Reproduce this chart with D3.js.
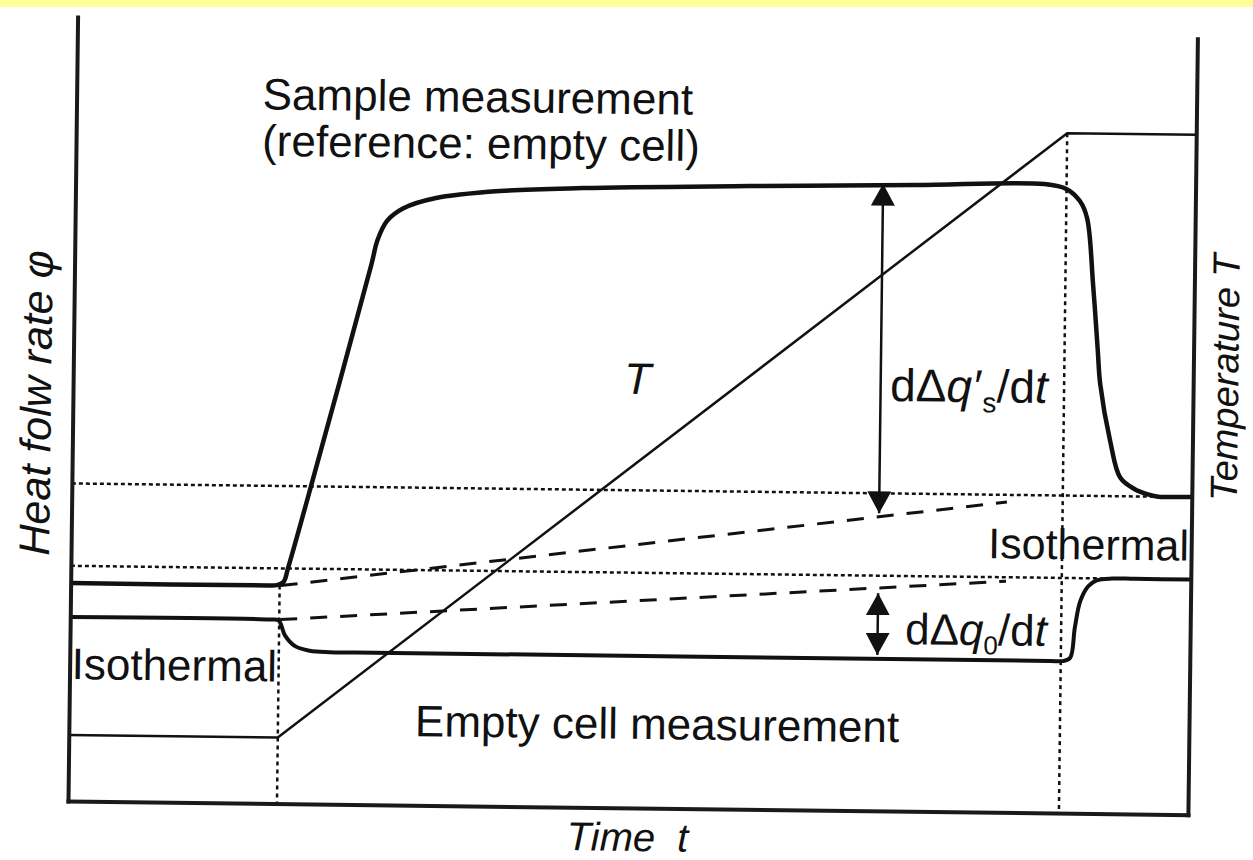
<!DOCTYPE html>
<html>
<head>
<meta charset="utf-8">
<script src="https://cdn.jsdelivr.net/npm/d3@7"></script>
<style>
  body { margin: 0; background: #fff; }
  svg { display: block; }
  text { font-family: "Liberation Sans", Arial, sans-serif; fill: #111; }
</style>
</head>
<body>
<div id="container"></div>
<script>
// time t (0-100), heat flow rate phi (0-100), temperature T (0-100), arbitrary units

// sample measurement (reference: empty cell)
var sampleCurve = [
  [0, 27.25], [17.6, 27.25], [18.4, 27.3], [19.0, 27.7], [19.4, 29.5], [21.5, 40.5], [26.5, 67.5],
  [27.0, 70.5], [27.85, 73.0], [29.3, 74.6], [32.1, 75.9], [37.9, 76.9], [45.3, 77.4],
  [60.2, 77.9], [75.0, 78.3], [86.5, 78.6], [88.5, 78.0], [89.7, 76.5], [90.35, 74.4],
  [90.95, 66.2], [91.45, 57.8], [91.7, 53.7], [92.65, 46.6], [93.6, 42.0], [94.9, 40.6],
  [96.0, 40.0], [97.0, 39.7], [98.5, 39.7], [100, 39.7]
];

// empty cell measurement
var emptyCurve = [
  [0, 23.0], [17.8, 23.0], [18.6, 22.9], [19.2, 21.0], [20.1, 19.7], [21.4, 19.15], [23.2, 19.0],
  [25.5, 19.0], [87.5, 19.0], [88.6, 19.0], [89.3, 19.4], [89.7, 23.2], [90.15, 26.5], [90.85, 28.4],
  [91.6, 29.15], [93.0, 29.4], [95.0, 29.4], [100, 29.4]
];

// temperature program
var tempProgram = [[0, 8.25], [18.66, 8.25], [88.48, 85], [100, 85]];

// isothermal levels (dotted) and interpolated baselines (dashed)
var isoLevels = [39.7, 29.4];
var sampleBaseline = [[18.75, 27.25], [83.5, 38.8]];
var emptyBaseline = [[18.75, 23.0], [83.5, 28.9]];

// start / end of heating
var stepTimes = [18.66, 88.48];

// difference arrows
var arrowTime = 72.1;
var arrowSample = [78.4, 37.2];
var arrowEmpty = [27.2, 19.5];

var width = 1253, height = 860;

var x = d3.scaleLinear().domain([0, 100]).range([68, 1188]);
var y = d3.scaleLinear().domain([0, 100]).range([800, 0]);
var yT = d3.scaleLinear().domain([0, 100]).range([800, 0]);

var svg = d3.select("#container")
  .append("svg")
  .attr("width", width)
  .attr("height", height);

svg.append("rect").attr("width", width).attr("height", height).attr("fill", "#fff");
// yellow strip on top of the scan
svg.append("rect").attr("width", width).attr("height", 7).attr("fill", "#ffff99");

var defs = svg.append("defs");
defs.append("marker")
  .attr("id", "head")
  .attr("viewBox", "0 -12 22 24")
  .attr("refX", 22).attr("refY", 0)
  .attr("markerWidth", 22).attr("markerHeight", 24)
  .attr("markerUnits", "userSpaceOnUse")
  .attr("orient", "auto-start-reverse")
  .append("path")
  .attr("d", "M0,-12L22,0L0,12Z")
  .attr("fill", "#111");

// the scan is slightly rotated
var g = svg.append("g").attr("transform", "translate(0,1) rotate(0.7,68,800)");

var flow = d3.line()
  .x(function (d) { return x(d[0]); })
  .y(function (d) { return y(d[1]); })
  .curve(d3.curveCatmullRom.alpha(0.5));

var straight = d3.line()
  .x(function (d) { return x(d[0]); })
  .y(function (d) { return y(d[1]); });

var temp = d3.line()
  .x(function (d) { return x(d[0]); })
  .y(function (d) { return yT(d[1]); });

// dotted isothermal levels
g.selectAll(".iso")
  .data(isoLevels)
  .enter().append("line")
  .attr("class", "iso")
  .attr("x1", x(0)).attr("x2", x(100))
  .attr("y1", function (d) { return y(d); })
  .attr("y2", function (d) { return y(d); })
  .attr("stroke", "#111")
  .attr("stroke-width", 2.5)
  .attr("stroke-dasharray", "4,3");

// dotted verticals at start / end of heating
var stepTops = [y(sampleCurve[1][1]), yT(tempProgram[2][1])];
g.selectAll(".step")
  .data(stepTimes)
  .enter().append("line")
  .attr("class", "step")
  .attr("x1", function (d) { return x(d); })
  .attr("x2", function (d) { return x(d); })
  .attr("y1", function (d, i) { return stepTops[i]; })
  .attr("y2", y(0))
  .attr("stroke", "#111")
  .attr("stroke-width", 2.5)
  .attr("stroke-dasharray", "4,4");

// dashed baselines
g.selectAll(".base")
  .data([sampleBaseline, emptyBaseline])
  .enter().append("path")
  .attr("class", "base")
  .attr("d", straight)
  .attr("fill", "none")
  .attr("stroke", "#111")
  .attr("stroke-width", 3)
  .attr("stroke-dasharray", "17,13");

// temperature program
g.append("path")
  .attr("d", temp(tempProgram))
  .attr("fill", "none")
  .attr("stroke", "#111")
  .attr("stroke-width", 2.5);

// heat flow curves
g.append("path")
  .attr("d", flow(sampleCurve))
  .attr("fill", "none")
  .attr("stroke", "#111")
  .attr("stroke-width", 4.5);

g.append("path")
  .attr("d", flow(emptyCurve))
  .attr("fill", "none")
  .attr("stroke", "#111")
  .attr("stroke-width", 4);

// arrows
g.selectAll(".arrow")
  .data([arrowSample, arrowEmpty])
  .enter().append("line")
  .attr("class", "arrow")
  .attr("x1", x(arrowTime)).attr("x2", x(arrowTime))
  .attr("y1", function (d) { return y(d[0]); })
  .attr("y2", function (d) { return y(d[1]); })
  .attr("stroke", "#111")
  .attr("stroke-width", 2.5)
  .attr("marker-start", "url(#head)")
  .attr("marker-end", "url(#head)");

// axes (no ticks)
g.append("g")
  .attr("transform", "translate(0," + y(0) + ")")
  .call(d3.axisBottom(x).tickValues([]).tickSizeOuter(0));
g.append("g")
  .attr("transform", "translate(" + x(0) + ",0)")
  .call(d3.axisLeft(y.copy().domain([0, 98]).range([y(0), y(98)])).tickValues([]).tickSizeOuter(0));
g.append("g")
  .attr("transform", "translate(" + x(100) + ",0)")
  .call(d3.axisRight(yT.copy().domain([0, 97]).range([yT(0), yT(97)])).tickValues([]).tickSizeOuter(0));

g.selectAll(".domain")
  .attr("stroke", "#1a1a1a")
  .attr("stroke-width", 4)
  .attr("stroke-linecap", "square");

// labels
var fs = 44;

g.append("text").attr("x", 254).attr("y", 106).attr("font-size", fs).text("Sample measurement");
g.append("text").attr("x", 254).attr("y", 152.5).attr("font-size", fs).text("(reference: empty cell)");

g.append("text").attr("x", 619).attr("y", 386).attr("font-size", fs)
  .attr("font-style", "italic").text("T");

var qs = g.append("text").attr("x", 885).attr("y", 390).attr("font-size", 46);
qs.append("tspan").text("d\u0394");
qs.append("tspan").attr("font-style", "italic").text("q\u2032");
qs.append("tspan").attr("font-size", 28).attr("dy", 10).attr("dx", 2).text("s");
qs.append("tspan").attr("dy", -10).text("/d");
qs.append("tspan").attr("font-style", "italic").text("t");

var q0 = g.append("text").attr("x", 903).attr("y", 633).attr("font-size", fs);
q0.append("tspan").text("d\u0394");
q0.append("tspan").attr("font-style", "italic").text("q");
q0.append("tspan").attr("font-size", 26).attr("dy", 9).text("0");
q0.append("tspan").attr("dy", -9).text("/d");
q0.append("tspan").attr("font-style", "italic").text("t");

g.append("text").attr("x", 985).attr("y", 546).attr("font-size", 43).text("Isothermal");
g.append("text").attr("x", 70).attr("y", 678).attr("font-size", fs).text("Isothermal");

g.append("text").attr("x", 414).attr("y", 731).attr("font-size", fs).text("Empty cell measurement");

var tl = g.append("text").attr("x", 567).attr("y", 843).attr("font-size", 40).attr("font-style", "italic");
tl.append("tspan").text("Time");
tl.append("tspan").attr("dx", 22).text("t");

g.append("text")
  .attr("transform", "translate(46,555) rotate(-90)")
  .attr("font-size", 43)
  .attr("font-style", "italic")
  .text("Heat folw rate \u03c6");

var tt = g.append("text")
  .attr("transform", "translate(1233,486) rotate(-90)")
  .attr("font-size", 38)
  .attr("font-style", "italic");
tt.append("tspan").text("Temperature");
tt.append("tspan").attr("dx", 10).text("T");
</script>
</body>
</html>
